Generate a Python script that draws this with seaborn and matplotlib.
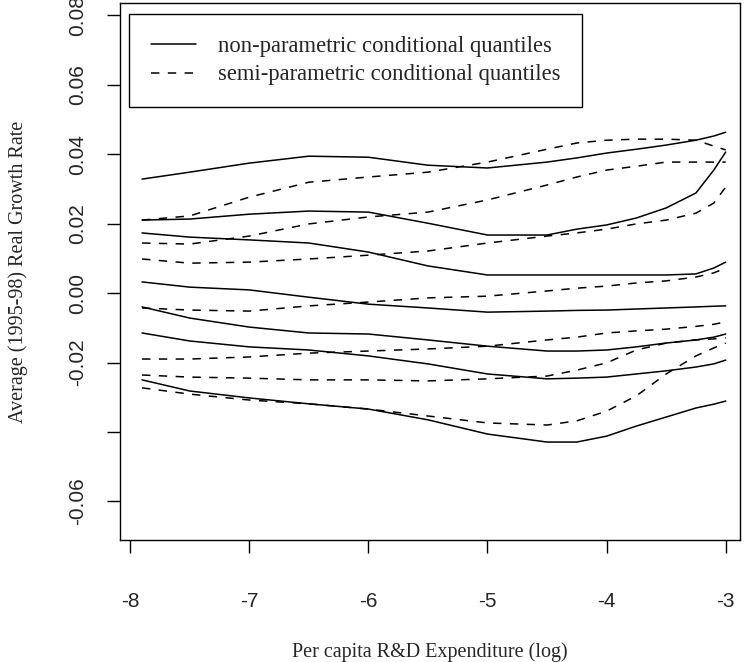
import numpy as np
import pandas as pd
import matplotlib
matplotlib.use("Agg")
import matplotlib.pyplot as plt
import seaborn as sns
from matplotlib.lines import Line2D

# log per capita R&D expenditure grid
x_grid = [-7.9, -7.5, -7.0, -6.5, -6.0, -5.5, -5.0, -4.5, -4.25, -4.0, -3.75, -3.5, -3.25, -3.1, -3.0]

# non-parametric conditional quantiles (solid), top to bottom
np_1 = [0.0328, 0.0348, 0.0374, 0.0394, 0.0391, 0.0368, 0.0360, 0.0377, 0.0389, 0.0403, 0.0414, 0.0426, 0.0440, 0.0452, 0.0463]
np_2 = [0.0210, 0.0213, 0.0227, 0.0236, 0.0233, 0.0201, 0.0167, 0.0167, 0.0184, 0.0196, 0.0216, 0.0245, 0.0288, 0.0354, 0.0406]
np_3 = [0.0173, 0.0161, 0.0153, 0.0144, 0.0118, 0.0078, 0.0052, 0.0052, 0.0052, 0.0052, 0.0052, 0.0052, 0.0055, 0.0072, 0.0089]
np_4 = [0.0032, 0.0017, 0.0009, -0.0012, -0.0032, -0.0043, -0.0055, -0.0052, -0.0050, -0.0049, -0.0046, -0.0043, -0.0040, -0.0038, -0.0037]
np_5 = [-0.0040, -0.0072, -0.0098, -0.0115, -0.0118, -0.0135, -0.0153, -0.0167, -0.0167, -0.0164, -0.0155, -0.0144, -0.0135, -0.0127, -0.0118]
np_6 = [-0.0115, -0.0138, -0.0155, -0.0164, -0.0181, -0.0204, -0.0233, -0.0247, -0.0245, -0.0242, -0.0233, -0.0224, -0.0213, -0.0204, -0.0193]
np_7 = [-0.0250, -0.0282, -0.0302, -0.0319, -0.0334, -0.0365, -0.0406, -0.0429, -0.0429, -0.0412, -0.0383, -0.0357, -0.0331, -0.0320, -0.0311]

# semi-parametric conditional quantiles (dashed), top to bottom
sp_1 = [0.0210, 0.0222, 0.0276, 0.0319, 0.0334, 0.0348, 0.0377, 0.0414, 0.0432, 0.0440, 0.0443, 0.0443, 0.0440, 0.0423, 0.0412]
sp_2 = [0.0144, 0.0141, 0.0164, 0.0199, 0.0219, 0.0233, 0.0268, 0.0311, 0.0334, 0.0354, 0.0365, 0.0377, 0.0377, 0.0377, 0.0377]
sp_3 = [0.0098, 0.0086, 0.0089, 0.0098, 0.0109, 0.0121, 0.0144, 0.0164, 0.0173, 0.0184, 0.0199, 0.0210, 0.0230, 0.0259, 0.0305]
sp_4 = [-0.0043, -0.0049, -0.0052, -0.0037, -0.0026, -0.0014, -0.0009, 0.0006, 0.0014, 0.0020, 0.0029, 0.0035, 0.0046, 0.0058, 0.0072]
sp_5 = [-0.0190, -0.0190, -0.0184, -0.0173, -0.0167, -0.0161, -0.0153, -0.0135, -0.0127, -0.0115, -0.0109, -0.0104, -0.0096, -0.0090, -0.0083]
sp_6 = [-0.0236, -0.0242, -0.0245, -0.0250, -0.0250, -0.0253, -0.0247, -0.0239, -0.0222, -0.0201, -0.0164, -0.0144, -0.0135, -0.0132, -0.0129]
sp_7 = [-0.0273, -0.0291, -0.0308, -0.0319, -0.0334, -0.0354, -0.0374, -0.0380, -0.0368, -0.0340, -0.0296, -0.0233, -0.0181, -0.0158, -0.0144]

x_ticks = [-8, -7, -6, -5, -4, -3]
x_tick_labels = ["-8", "-7", "-6", "-5", "-4", "-3"]
y_ticks = [-0.06, -0.04, -0.02, 0.00, 0.02, 0.04, 0.06, 0.08]
y_tick_labels = ["-0.06", "", "-0.02", "0.00", "0.02", "0.04", "0.06", "0.08"]

legend_labels = ["non-parametric conditional quantiles", "semi-parametric conditional quantiles"]

# stack into long format for seaborn
rows = []
for name, kind, vals in [("np1", "non", np_1), ("np2", "non", np_2), ("np3", "non", np_3),
                         ("np4", "non", np_4), ("np5", "non", np_5), ("np6", "non", np_6),
                         ("np7", "non", np_7), ("sp1", "semi", sp_1), ("sp2", "semi", sp_2),
                         ("sp3", "semi", sp_3), ("sp4", "semi", sp_4), ("sp5", "semi", sp_5),
                         ("sp6", "semi", sp_6), ("sp7", "semi", sp_7)]:
    for xv, yv in zip(x_grid, vals):
        rows.append((name, kind, xv, yv))
df = pd.DataFrame(rows, columns=["curve", "kind", "x", "y"])

sns.set_style("ticks")
plt.rcParams["font.family"] = ["Liberation Serif", "DejaVu Serif"]

fig = plt.figure(figsize=(7.51, 6.62), dpi=100)
ax = fig.add_axes([120 / 751, 1 - 540 / 662, 620 / 751, 537 / 662])

dash = (5.5, 5.5)
sns.lineplot(data=df, x="x", y="y", units="curve", style="kind", estimator=None,
             dashes={"non": "", "semi": dash}, color="black", linewidth=1.1,
             legend=False, sort=False, ax=ax)

ax.set_xlim(-8.085, -2.88)
ax.set_ylim(-0.0711, 0.0835)

for s in ax.spines.values():
    s.set_visible(True)
    s.set_linewidth(1.0)
    s.set_color("black")

ax.set_xticks(x_ticks)
ax.set_xticklabels(x_tick_labels, fontsize=15, family="Liberation Sans")
ax.set_yticks(y_ticks)
ax.set_yticklabels(y_tick_labels, fontsize=15, family="Liberation Sans",
                   rotation=90, va="center")
ax.tick_params(axis="both", direction="out", length=9.5, width=1.0, color="black")
ax.tick_params(axis="y", pad=14)
ax.tick_params(axis="x", pad=28)

ax.set_xlabel("Per capita R&D Expenditure (log)", fontsize=14.5)
ax.set_ylabel("Average (1995-98) Real Growth Rate", fontsize=14.5, va="center")
ax.xaxis.set_label_coords(0.5, -0.19)
ax.yaxis.set_label_coords(-0.165, 0.5)

handles = [Line2D([], [], color="black", lw=1.1),
           Line2D([], [], color="black", lw=1.1, dashes=dash)]
leg = ax.legend(handles, legend_labels, loc="upper left",
                bbox_to_anchor=(9 / 620, 1 - 11 / 537), borderaxespad=0,
                fontsize=16.3, fancybox=False, framealpha=1, edgecolor="black",
                handlelength=2.0, handletextpad=1.0, borderpad=0.95,
                labelspacing=0.35)
leg.get_frame().set_linewidth(1.0)

fig.savefig("out.png", dpi=100)
